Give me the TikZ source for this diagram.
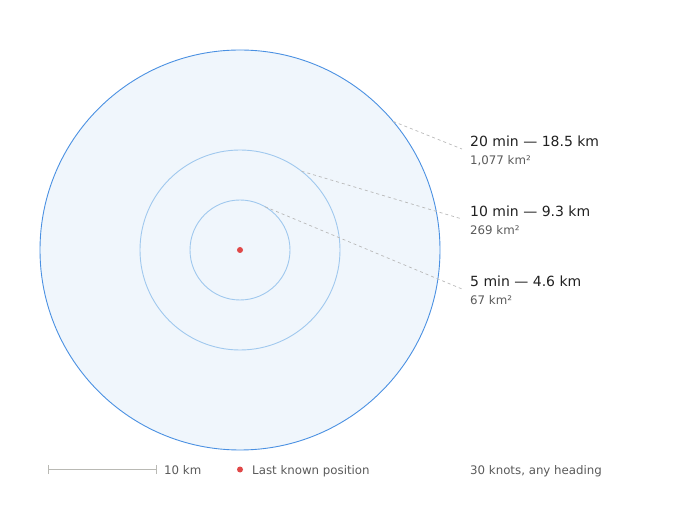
\documentclass[tikz,border=0pt]{standalone}
\usepackage{fontspec}
\setmainfont{DejaVu Sans}
\usepackage{xcolor}
\usetikzlibrary{positioning}
\definecolor{ringdark}{RGB}{74,144,226}
\definecolor{ringlight}{RGB}{160,200,238}
\definecolor{ringfill}{RGB}{240,246,252}
\definecolor{posred}{RGB}{224,72,72}
\definecolor{leadgray}{RGB}{185,185,185}
\definecolor{subgray}{RGB}{90,90,90}
\definecolor{bargray}{RGB}{185,185,180}
\def\ringcx{240}
\def\ringcy{250}
\def\labx{470}
\tikzset{
	ring/.style={circle, inner sep=0, outer sep=0, minimum size=#1},
	leader/.style={leadgray, dashed, dash pattern=on 3pt off 3pt, line width=0.7pt},
	ringtitle/.style={anchor=base west, inner sep=0, font=\fontsize{14}{16}\selectfont, text=black!87},
	ringsub/.style={anchor=base west, inner sep=0, font=\fontsize{11.8}{14}\selectfont, text=subgray},
	legendtext/.style={anchor=base west, inner sep=0, font=\fontsize{11.8}{14}\selectfont, text=subgray},
}

\begin{document}
\begin{tikzpicture}[x=1pt, y=-1pt]
		\useasboundingbox (0,0) rectangle (680,510);
		\coordinate (pos) at (\ringcx,\ringcy);
		% search rings
		\node[ring=400pt, draw=ringdark, fill=ringfill, line width=0.9pt] (ring20) at (pos) {};
		\node[ring=200pt, draw=ringlight, line width=0.9pt] (ring10) at (pos) {};
		\node[ring=100pt, draw=ringlight, line width=0.9pt] (ring5) at (pos) {};
		\fill[posred] (pos) circle (3pt);
		% labels
		\node[ringtitle] (title20) at (\labx,147) {20 min — 18.5 km};
		\node[ringsub] (sub20) at (\labx,165) {1,077 km²};
		\node[ringtitle] (title10) at (\labx,217) {10 min — 9.3 km};
		\node[ringsub] (sub10) at (\labx,235) {269 km²};
		\node[ringtitle] (title5) at (\labx,287) {5 min — 4.6 km};
		\node[ringsub] (sub5) at (\labx,305) {67 km²};
		\coordinate (lead20) at (462,149);
		\coordinate (lead10) at (462,219);
		\coordinate (lead5) at (462,289);
		\draw[leader] (ring20.40) -- (lead20);
		\draw[leader] (ring10.52) -- (lead10);
		\draw[leader] (ring5.60) -- (lead5);
		% legend
		\coordinate (barl) at (48,469.5);
		\coordinate (barr) at (156,469.5);
		\draw[bargray, line width=1.3pt] (barl) -- (barr);
		\draw[bargray, line width=1pt] ([yshift=-4.5pt]barl) -- ([yshift=4.5pt]barl);
		\draw[bargray, line width=1pt] ([yshift=-4.5pt]barr) -- ([yshift=4.5pt]barr);
		\node[legendtext] (scalelab) at (164,474) {10 km};
		\coordinate (legdot) at (240,469.5);
		\fill[posred] (legdot) circle (3pt);
		\node[legendtext] (poslab) at (252,474) {Last known position};
		\node[legendtext] (speedlab) at (\labx,474) {30 knots, any heading};
	\end{tikzpicture}
\end{document}
